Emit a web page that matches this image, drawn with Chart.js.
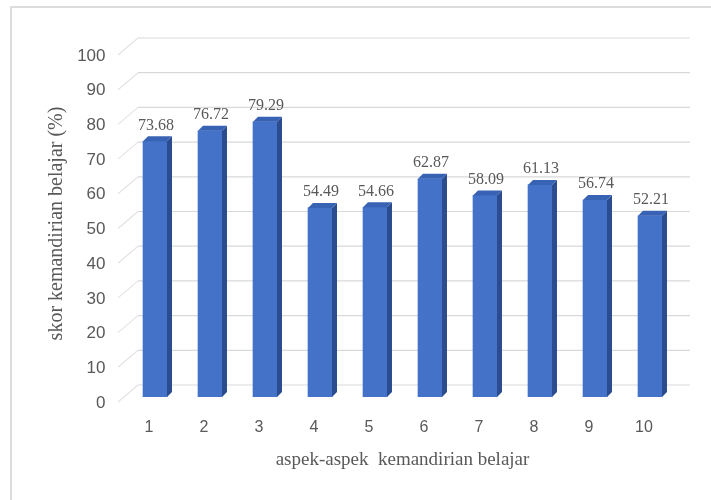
<!DOCTYPE html>
<html>
<head>
<meta charset="utf-8">
<title>Skor kemandirian belajar</title>
<script src="https://cdn.jsdelivr.net/npm/chart.js@4.4.1/dist/chart.umd.min.js"></script>
<style>
    html, body { margin: 0; padding: 0; background: #fff; }
    #wrap { width: 711px; height: 500px; }
</style>
</head>
<body>
<div id="wrap"><canvas id="aspekChart" width="711" height="500"></canvas></div>
<script>
const aspekLabels = ["1", "2", "3", "4", "5", "6", "7", "8", "9", "10"];
const skorValues = [73.68, 76.72, 79.29, 54.49, 54.66, 62.87, 58.09, 61.13, 56.74, 52.21];
const yTicks = [0, 10, 20, 30, 40, 50, 60, 70, 80, 90, 100];

const COLORS = {
    front: "#4472c8",
    side: "#2b4d8f",
    top: "#3862b4",
    grid: "#d9d9d9",
    text: "#595959",
    frame: "#dcdcdc",
};

// profundidad del efecto 3D
const DEPTH = { dx: 5, dy: -5 };
const WALL = { front: -9.5, back: 10.5, up: -12, down: 5, extra: 12.5 };

const frameAndWall = {
    id: "frameAndWall",
    beforeDraw(chart) {
        const ctx = chart.ctx;
        ctx.save();
        ctx.fillStyle = "#fff";
        ctx.fillRect(0, 0, chart.width, chart.height);
        ctx.strokeStyle = COLORS.frame;
        ctx.lineWidth = 2;
        ctx.beginPath();
        ctx.moveTo(11, chart.height);
        ctx.lineTo(11, 7);
        ctx.lineTo(chart.width, 7);
        ctx.stroke();
        ctx.restore();
    },
    beforeDatasetsDraw(chart) {
        const ctx = chart.ctx;
        const area = chart.chartArea;
        const y = chart.scales.y;
        ctx.save();
        ctx.lineWidth = 1.2;
        yTicks.forEach((v) => {
            const p = y.getPixelForValue(v);
            // línea diagonal (suelo/pared lateral)
            ctx.strokeStyle = "#e3e3e3";
            ctx.beginPath();
            ctx.moveTo(area.left + WALL.front, p + WALL.down);
            ctx.lineTo(area.left + WALL.back, p + WALL.up);
            ctx.stroke();
            // línea en la pared del fondo
            ctx.strokeStyle = COLORS.grid;
            ctx.beginPath();
            ctx.moveTo(area.left + WALL.back, p + WALL.up);
            ctx.lineTo(area.right + WALL.extra, p + WALL.up);
            ctx.stroke();
        });
        ctx.restore();
    },
    afterDatasetsDraw(chart) {
        const ctx = chart.ctx;
        const meta = chart.getDatasetMeta(0);
        ctx.save();
        meta.data.forEach((bar, i) => {
            const { x, y, base, width } = bar.getProps(["x", "y", "base", "width"], true);
            const left = x - width / 2;
            const right = x + width / 2;

            // cara lateral
            ctx.fillStyle = COLORS.side;
            ctx.beginPath();
            ctx.moveTo(right, y);
            ctx.lineTo(right + DEPTH.dx, y + DEPTH.dy);
            ctx.lineTo(right + DEPTH.dx, base + DEPTH.dy);
            ctx.lineTo(right, base);
            ctx.closePath();
            ctx.fill();

            // cara superior
            ctx.fillStyle = COLORS.top;
            ctx.beginPath();
            ctx.moveTo(left, y);
            ctx.lineTo(left + DEPTH.dx, y + DEPTH.dy);
            ctx.lineTo(right + DEPTH.dx, y + DEPTH.dy);
            ctx.lineTo(right, y);
            ctx.closePath();
            ctx.fill();

            // etiqueta de valor
            ctx.fillStyle = COLORS.text;
            ctx.font = "16px 'Liberation Serif', 'DejaVu Serif', serif";
            ctx.textAlign = "center";
            ctx.textBaseline = "middle";
            ctx.fillText(skorValues[i].toFixed(2), x + 1, y - 16);
        });
        ctx.restore();
    },
};

function createAspekChart() {
    const ctx = document.getElementById("aspekChart");

    new Chart(ctx, {
        type: "bar",
        data: {
            labels: aspekLabels,
            datasets: [
                {
                    label: "skor",
                    data: skorValues,
                    backgroundColor: COLORS.front,
                    borderWidth: 0,
                    barThickness: 24,
                },
            ],
        },
        options: {
            responsive: false,
            animation: false,
            layout: {
                padding: { top: 50, right: 33.5, bottom: 0, left: 0 },
            },
            plugins: {
                legend: { display: false },
                tooltip: { enabled: false },
            },
            scales: {
                x: {
                    grid: { display: false, drawTicks: false },
                    border: { display: false },
                    ticks: {
                        color: COLORS.text,
                        padding: 21,
                        labelOffset: -6,
                        font: { family: "'Liberation Sans', Arial, sans-serif", size: 16 },
                    },
                    title: {
                        display: true,
                        text: "aspek-aspek  kemandirian belajar",
                        color: COLORS.text,
                        padding: { top: 0, bottom: 29 },
                        font: { family: "'Liberation Serif', 'DejaVu Serif', serif", size: 19 },
                    },
                    afterFit: function (scale) {
                        scale.height = 103;
                    },
                },
                y: {
                    min: 0,
                    max: 100,
                    grid: { display: false, drawTicks: false },
                    border: { display: false },
                    ticks: {
                        stepSize: 10,
                        color: COLORS.text,
                        padding: 22,
                        labelOffset: 6,
                        font: { family: "'Liberation Sans', Arial, sans-serif", size: 17 },
                    },
                    title: {
                        display: true,
                        text: "skor kemandirian belajar (%)",
                        color: COLORS.text,
                        padding: { top: 45, bottom: 0 },
                        font: { family: "'Liberation Serif', 'DejaVu Serif', serif", size: 20 },
                    },
                    afterFit: function (scale) {
                        scale.width = 127.5;
                    },
                },
            },
        },
        plugins: [frameAndWall],
    });
}

createAspekChart();
</script>
</body>
</html>
